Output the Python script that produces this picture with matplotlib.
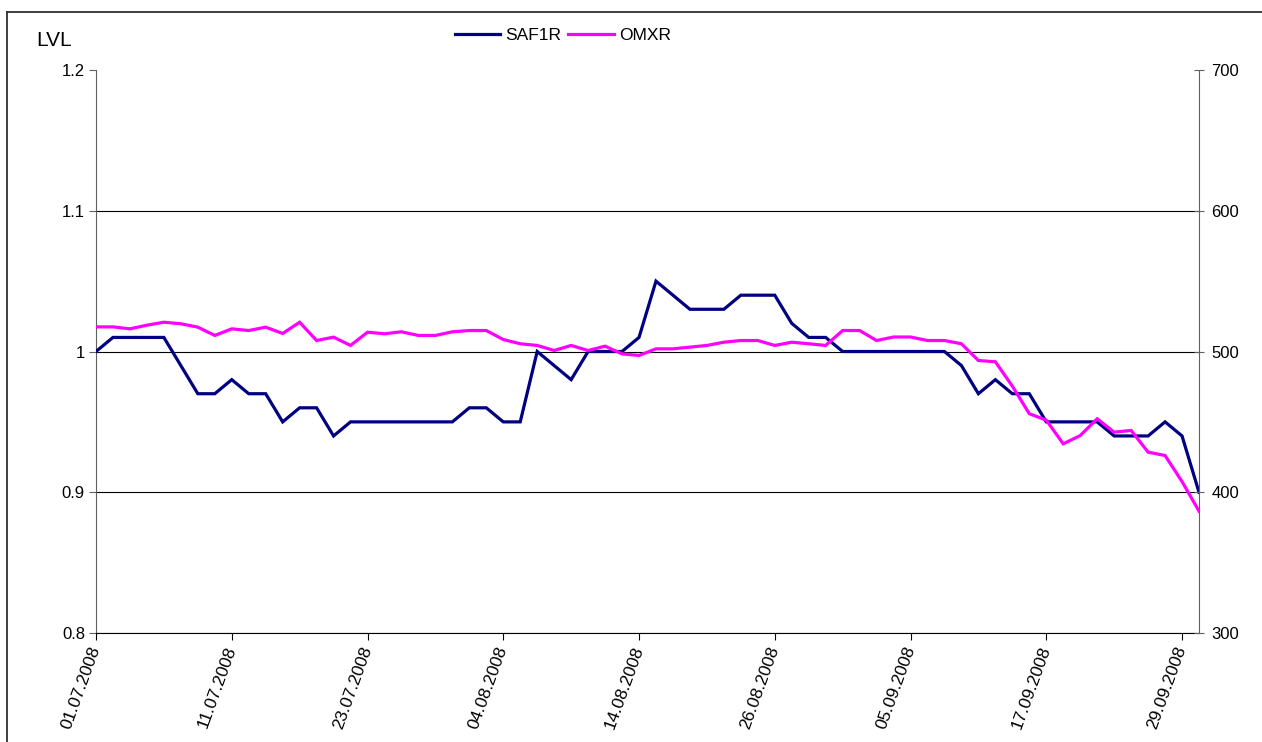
import matplotlib
matplotlib.use("Agg")
import matplotlib.pyplot as plt
from matplotlib.lines import Line2D
from matplotlib.ticker import FuncFormatter

plt.rcParams['font.family'] = ['Liberation Sans', 'DejaVu Sans']

dates = ["01.07.2008", "02.07.2008", "03.07.2008", "04.07.2008", "07.07.2008", "08.07.2008",
         "09.07.2008", "10.07.2008", "11.07.2008", "14.07.2008", "15.07.2008", "16.07.2008",
         "17.07.2008", "18.07.2008", "21.07.2008", "22.07.2008", "23.07.2008", "24.07.2008",
         "25.07.2008", "28.07.2008", "29.07.2008", "30.07.2008", "31.07.2008", "01.08.2008",
         "04.08.2008", "05.08.2008", "06.08.2008", "07.08.2008", "08.08.2008", "11.08.2008",
         "12.08.2008", "13.08.2008", "14.08.2008", "15.08.2008", "18.08.2008", "19.08.2008",
         "20.08.2008", "21.08.2008", "22.08.2008", "25.08.2008", "26.08.2008", "27.08.2008",
         "28.08.2008", "29.08.2008", "01.09.2008", "02.09.2008", "03.09.2008", "04.09.2008",
         "05.09.2008", "08.09.2008", "09.09.2008", "10.09.2008", "11.09.2008", "12.09.2008",
         "15.09.2008", "16.09.2008", "17.09.2008", "18.09.2008", "19.09.2008", "22.09.2008",
         "23.09.2008", "24.09.2008", "25.09.2008", "26.09.2008", "29.09.2008", "30.09.2008"]

saf1r = [1.00, 1.01, 1.01, 1.01, 1.01, 0.99, 0.97, 0.97, 0.98, 0.97, 0.97, 0.95, 0.96, 0.96,
         0.94, 0.95, 0.95, 0.95, 0.95, 0.95, 0.95, 0.95, 0.96, 0.96, 0.95, 0.95, 1.00, 0.99,
         0.98, 1.00, 1.00, 1.00, 1.01, 1.05, 1.04, 1.03, 1.03, 1.03, 1.04, 1.04, 1.04, 1.02,
         1.01, 1.01, 1.00, 1.00, 1.00, 1.00, 1.00, 1.00, 1.00, 0.99, 0.97, 0.98, 0.97, 0.97,
         0.95, 0.95, 0.95, 0.95, 0.94, 0.94, 0.94, 0.95, 0.94, 0.90]

omxr = [517.5, 517.5, 516.1, 518.7, 520.8, 519.7, 517.3, 511.4, 516.1, 514.9, 517.3, 512.8,
        520.8, 507.8, 510.2, 504.3, 513.7, 512.6, 514.0, 511.4, 511.4, 514.0, 514.9, 514.9,
        508.5, 505.5, 504.3, 500.7, 504.3, 500.7, 503.8, 498.3, 497.2, 501.9, 501.9, 503.1,
        504.3, 506.6, 507.8, 507.8, 504.3, 506.6, 505.5, 504.3, 514.9, 514.9, 507.8, 510.3,
        510.3, 507.8, 507.8, 505.5, 493.6, 492.7, 475.4, 455.8, 451.2, 434.4, 440.3, 452.2,
        442.7, 443.9, 428.5, 426.1, 407.6, 386.6]

left_ticks = [0.8, 0.9, 1.0, 1.1, 1.2]
right_ticks = [300, 400, 500, 600, 700]
label_step = 8

fig = plt.figure(figsize=(12.62, 7.42), dpi=100)
ax = fig.add_axes([96 / 1262, 1 - 633 / 742, 1103 / 1262, 563 / 742])
ax2 = ax.twinx()

x = list(range(len(dates)))
l1, = ax.plot(x, saf1r, color='#000080', lw=2.3, solid_joinstyle='miter', label='SAF1R', zorder=3)
l2, = ax2.plot(x, omxr, color='#FF00FF', lw=2.3, solid_joinstyle='miter', label='OMXR', zorder=3)

ax.set_xlim(0, len(dates) - 1)
ax.set_ylim(left_ticks[0], left_ticks[-1])
ax2.set_ylim(right_ticks[0], right_ticks[-1])
ax.set_yticks(left_ticks)
ax2.set_yticks(right_ticks)
ax.yaxis.set_major_formatter(FuncFormatter(lambda v, p: f"{v:g}"))

ax.grid(axis='y', color='black', lw=0.8)
for gl in ax.yaxis.get_gridlines()[-1:]:
    gl.set_visible(False)
ax.set_axisbelow(True)

tick_pos = x[::label_step]
ax.set_xticks(tick_pos)
ax.set_xticklabels([dates[i] for i in tick_pos], rotation=70, ha='right', va='center',
                   rotation_mode='anchor', fontsize=12.5)

for a in (ax, ax2):
    a.spines['top'].set_visible(False)
ax.spines['left'].set_color('#606060')
ax2.spines['right'].set_color('#606060')
ax.spines['bottom'].set_color('black')
ax2.spines['left'].set_visible(False)
ax2.spines['bottom'].set_visible(False)
ax.spines['right'].set_visible(False)

ax.tick_params(axis='y', direction='out', length=5, width=0.8, color='#606060', labelsize=12, pad=3)
ax.tick_params(axis='x', direction='out', length=5, width=0.8, color='black', pad=5)
ax2.tick_params(axis='y', direction='inout', length=7, width=0.8, color='#606060', labelsize=12, pad=5.5)

fig.text(36 / 1262, 1 - 40 / 742, 'LVL', fontsize=15, ha='left', va='center')

fig.legend(handles=[l1, l2], loc='center', bbox_to_anchor=(563 / 1262, 1 - 35 / 742), ncol=2,
           frameon=False, fontsize=12.5, handlelength=2.6, handletextpad=0.3, columnspacing=0.4)

fig.add_artist(Line2D([7 / 1262, 7 / 1262], [0, 1 - 12 / 742], transform=fig.transFigure,
                      color='#303030', lw=1.3))
fig.add_artist(Line2D([7 / 1262, 1], [1 - 12 / 742, 1 - 12 / 742], transform=fig.transFigure,
                      color='#303030', lw=1.3))

fig.savefig('out.png', dpi=100)
